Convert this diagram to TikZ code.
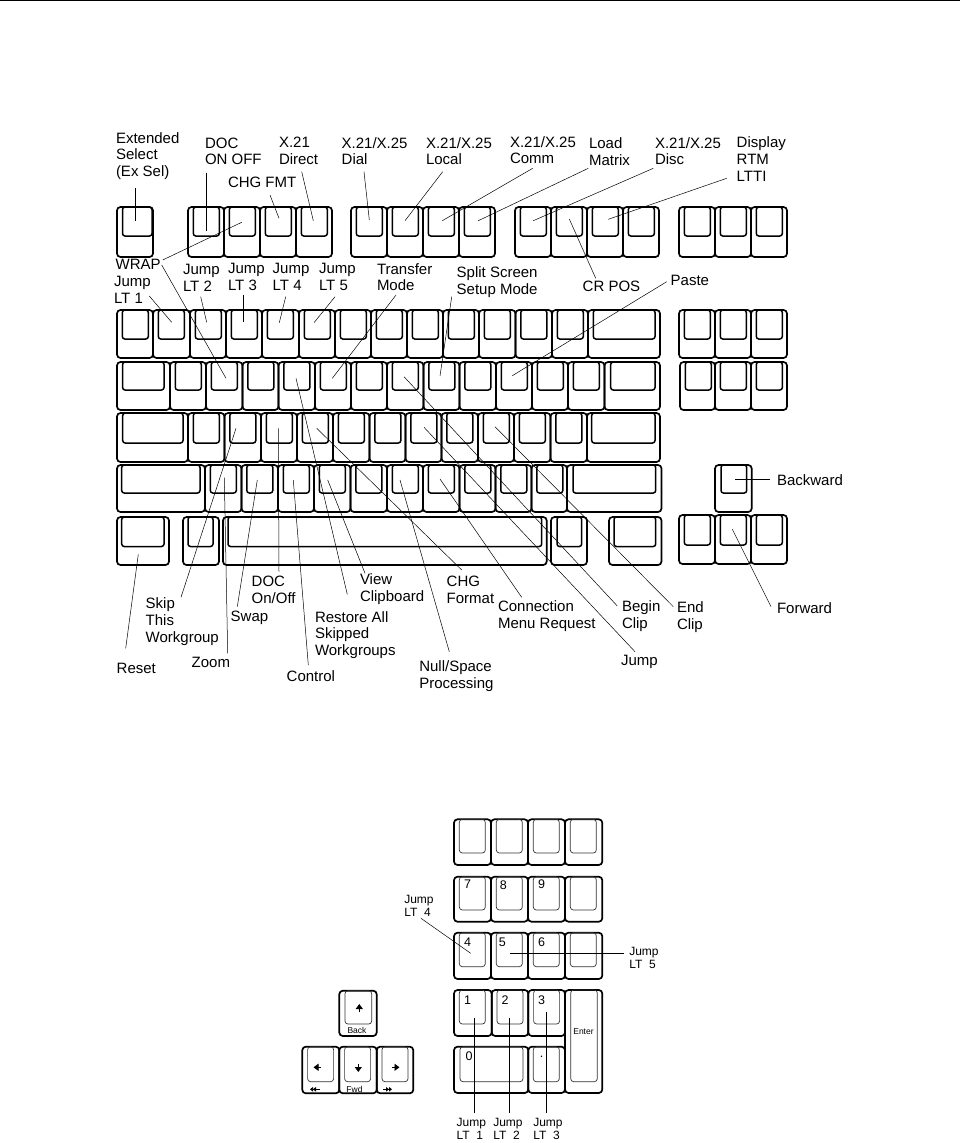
\documentclass[tikz,border=0pt]{standalone}
\usepackage{fontspec}
\setmainfont{Liberation Sans}
\usetikzlibrary{arrows.meta}
\tikzset{
  keyouter/.style={draw=black,line width=1.7pt,rounded corners=3.5pt,inner sep=0pt,outer sep=0pt,fill=none},
  keyinner/.style={draw=black,line width=1.5pt,rounded corners=2.5pt,inner sep=0pt,outer sep=0pt,fill=none},
  padinner/.style={draw=black!80,line width=0.7pt,rounded corners=3pt,inner sep=0pt,outer sep=0pt,fill=none},
  lab/.style={anchor=west,align=left,inner sep=0pt,outer sep=0pt,font=\fontsize{15}{16.6}\selectfont},
  smlab/.style={anchor=west,align=left,inner sep=0pt,outer sep=0pt,font=\fontsize{12}{13}\selectfont},
  keynum/.style={inner sep=0pt,outer sep=0pt,font=\fontsize{12.5}{13}\selectfont},
  keytiny/.style={inner sep=0pt,outer sep=0pt,font=\fontsize{8.5}{9}\selectfont},
  leader/.style={draw=black,line width=0.5pt},
  glyph/.style={draw=black,line width=0.9pt},
}
% \KK{name}{x0}{x1}{y0}{y1}{inner x0}{inner x1}{inner bottom}{inner style}
\newcommand{\KK}[9]{%
  \node[keyouter,minimum width={(#3-#2)*1pt},minimum height={(#5-#4)*1pt}] (#1) at ({(#2+#3)/2},{(#4+#5)/2}) {};
  \node[#9,minimum width={(#7-#6)*1pt},minimum height={(#8-#4)*1pt}] (#1i) at ({(#6+#7)/2},{(#4+#8)/2}) {};
}
% row of regular keys
\newcommand{\KRow}[6][keyinner]{%
  \foreach \a/\b [count=\i] in {#6} {%
    \pgfmathsetmacro{\ia}{\a+5.3}\pgfmathsetmacro{\ib}{\a+31.3}
    \KK{#2\i}{\a}{\b}{#3}{#4}{\ia}{\ib}{#5}{#1}
  }%
}
\newcommand{\Lead}[3]{%
  \coordinate (#1a) at (#2);\coordinate (#1b) at (#3);
  \draw[leader] (#1a) -- (#1b);
}
\begin{document}
\begin{tikzpicture}[x=1pt,y=-1pt]
\useasboundingbox (0,0) rectangle (960,1143);
\fill[white] (0,0) rectangle (960,1143);
\fill[black] (0,0) rectangle (960,1.2);
% --- function row
\KK{exsel}{117}{153}{207}{257}{122.5}{152}{236}{keyinner}
\KRow{fa}{207}{257}{236}{188/224,224/260,260/296,296/332}
\KRow{fb}{207}{257}{236}{351/387,387/423,423/459,459/495}
\KRow{fc}{207}{257}{236}{515/551,551/587,587/623,623/659}
\KRow{fd}{207}{257}{236}{679/715,715/751,751/787}
% --- row 1
\KRow{ra}{310}{358}{339}{117/153,153/190,190/226,226/262,262/299,299/335,335/371,371/407,407/443,443/479,479/515.5,515.5/552,552/588}
\KK{ra14}{588}{660}{310}{358}{593.3}{655}{339}{keyinner}
\KRow{na}{310}{358}{339}{679/715,715/751,751/787}
% --- row 2
\KK{rb1}{117}{170}{362}{410}{122.6}{164}{390}{keyinner}
\KRow{rc}{362}{410}{390}{170/206,206/242.5,242.5/278.5,278.5/315,315/351,351/387,387/423.5,423.5/459.5,459.5/496,496/532,532/568,568/604.5}
\KK{rb14}{604.5}{660}{362}{410}{610.7}{655}{390}{keyinner}
\KRow{nb}{362}{410}{390}{680/715,715/751,751/787}
% --- row 3
\KK{rd1}{117}{188}{413}{462}{122.7}{183}{443}{keyinner}
\KRow{re}{413}{462}{443}{188/224.5,224.5/261,261/297,297/333,333/369.5,369.5/405.5,405.5/441.5,441.5/478,478/514,514/550.5,550.5/587}
\KK{rd14}{587}{660}{413}{462}{591.7}{655}{443}{keyinner}
% --- row 4
\KK{rf1}{117}{205}{465}{512}{121.7}{200}{493}{keyinner}
\KRow{rg}{465}{512}{493}{205/241.5,241.5/278,278/314,314/350.5,350.5/387,387/423,423/459.5,459.5/495.5,495.5/531.5,531.5/567}
\KK{rf13}{567}{661.5}{465}{512}{573}{655.7}{493}{keyinner}
% --- bottom row
\KK{reset}{117}{169}{517}{565}{121.7}{164}{546.5}{keyinner}
\KK{alt}{183}{219}{517}{565}{188}{213}{546.5}{keyinner}
\KK{space}{223}{546.7}{517}{565}{228}{541.7}{546.5}{keyinner}
\KK{altr}{551}{587}{517}{565}{557}{581.7}{546.5}{keyinner}
\KK{ctrl}{609}{661.5}{517}{565}{614}{655.7}{546.5}{keyinner}
% --- cursor cluster
\KK{bwd}{715}{751.7}{465}{512}{721}{746.7}{493}{keyinner}
\KRow{cur}{515}{564}{545}{679/715,715/751,751/787}
% --- keypad
\KRow[padinner]{pa}{819.3}{865}{853}{454/491,491/528,528/565,565/602.3}
\KRow[padinner]{pb}{876.7}{921.7}{910}{454/491,491/528,528/565,565/602.3}
\KRow[padinner]{pc}{932.7}{979}{966.7}{454/491,491/528,528/565,565/602.3}
\KRow[padinner]{pd}{990}{1036}{1024}{454/491.7,491.7/528.3,528.3/565}
\KK{penter}{565}{602.3}{990}{1093}{570.7}{597.3}{1081.7}{padinner}
\KK{pzero}{454}{528.3}{1046.7}{1093}{460}{523}{1081.7}{padinner}
\KK{pdot}{528.3}{565}{1046.7}{1093}{533.3}{559.3}{1081.7}{padinner}
% --- arrow pad
\KK{aup}{339.3}{376.7}{990.7}{1036}{345}{371.7}{1024}{padinner}
\KRow[padinner]{arr}{1046.7}{1093.3}{1081.7}{302.3/339.3,339.3/376.7,376.7/413.3}
% arrow glyphs
\draw[glyph,-{Triangle[length=5pt,width=7pt]}] (359.3,1012) -- (359.3,1004);
\draw[glyph,-{Triangle[length=5pt,width=7pt]}] (321,1067.3) -- (313.5,1067.3);
\draw[glyph,-{Triangle[length=5pt,width=7pt]}] (358.3,1064) -- (358.3,1072);
\draw[glyph,-{Triangle[length=5pt,width=7pt]}] (391.5,1067.3) -- (399.5,1067.3);
\draw[glyph,-{Triangle[length=3pt,width=4.5pt]Triangle[length=3pt,width=4.5pt]}] (320,1089.3) -- (310,1089.3);
\draw[glyph,-{Triangle[length=3pt,width=4.5pt]Triangle[length=3pt,width=4.5pt]}] (383,1089.3) -- (392,1089.3);
% keypad legends
\node[keynum] (t7) at (467.5,884) {7};
\node[keynum] (t8) at (503.3,885.3) {8};
\node[keynum] (t9) at (541.7,884) {9};
\node[keynum] (t4) at (467.7,942.3) {4};
\node[keynum] (t5) at (502.3,942.3) {5};
\node[keynum] (t6) at (541.7,942.3) {6};
\node[keynum] (t1) at (467.7,1000) {1};
\node[keynum] (t2) at (505,1000) {2};
\node[keynum] (t3) at (541.7,1000) {3};
\node[keynum] (t0) at (469,1056) {0};
\node[keynum] (tdot) at (541.7,1057) {.};
\node[keytiny] (tenter) at (583.5,1031.3) {Enter};
\node[keytiny] (tback) at (357,1030) {Back};
\node[keytiny] (tfwd) at (354.5,1089.3) {Fwd};
% --- labels, top
\node[lab] (lext) at (116,156) {Extended\\Select\\(Ex Sel)};
\node[lab] (ldoc) at (205,151.5) {DOC\\ON OFF};
\node[lab] (ldir) at (279,151) {X.21\\Direct};
\node[lab] (lchg) at (228,182) {CHG FMT};
\node[lab] (ldial) at (341.7,151) {X.21/X.25\\Dial};
\node[lab] (lloc) at (426,151) {X.21/X.25\\Local};
\node[lab] (lcomm) at (510,150) {X.21/X.25\\Comm};
\node[lab] (lload) at (589,151.7) {Load\\Matrix};
\node[lab] (ldisc) at (655,151) {X.21/X.25\\Disc};
\node[lab] (ldisp) at (736.7,159) {Display\\RTM\\LTTI};
\node[lab] (lwrap) at (115.7,264) {WRAP};
\node[lab] (lj1) at (114,290) {Jump\\LT 1};
\node[lab] (lj2) at (183,278) {Jump\\LT 2};
\node[lab] (lj3) at (228,277) {Jump\\LT 3};
\node[lab] (lj4) at (272.7,277) {Jump\\LT 4};
\node[lab] (lj5) at (319,277) {Jump\\LT 5};
\node[lab] (ltran) at (377,277) {Transfer\\Mode};
\node[lab] (lsplit) at (456.7,282) {Split Screen\\Setup Mode};
\node[lab] (lcr) at (582.7,286.7) {CR POS};
\node[lab] (lpaste) at (670.7,280) {Paste};
% --- labels, lower
\node[lab] (lreset) at (116.7,668) {Reset};
\node[lab] (lskip) at (145.7,621.7) {Skip\\This\\Workgroup};
\node[lab] (lzoom) at (191.7,662) {Zoom};
\node[lab] (lswap) at (230.7,618) {Swap};
\node[lab] (ldoc2) at (251.7,590) {DOC\\On/Off};
\node[lab] (lrest) at (315,635) {Restore All\\Skipped\\Workgroups};
\node[lab] (lview) at (360,589) {View\\Clipboard};
\node[lab] (lchgf) at (446.7,589.7) {CHG\\Format};
\node[lab] (lctrl) at (286.7,676) {Control};
\node[lab] (lnull) at (419.3,676) {Null/Space\\Processing};
\node[lab] (lconn) at (498,616) {Connection\\Menu Request};
\node[lab] (lbegin) at (622,616) {Begin\\Clip};
\node[lab] (lend) at (677,617) {End\\Clip};
\node[lab] (ljump) at (621,662) {Jump};
\node[lab] (lbwd) at (777,480) {Backward};
\node[lab] (lfwd) at (777,608) {Forward};
% --- labels, keypad
\node[smlab] (pj4) at (404.3,905.5) {Jump\\LT\ \ 4};
\node[smlab] (pj5) at (629.3,958) {Jump\\LT\ \ 5};
\node[smlab] (pj1) at (456.7,1129.3) {Jump\\LT\ \ 1};
\node[smlab] (pj2) at (493.3,1129.3) {Jump\\LT\ \ 2};
\node[smlab] (pj3) at (533.3,1129.3) {Jump\\LT\ \ 3};
% --- leaders, top
\Lead{c1}{135,188.3}{135,220.7}
\Lead{c2}{206.7,172.7}{206.7,230.7}
\Lead{c3}{270,195}{279,218.3}
\Lead{c4}{301.7,171.7}{313.3,220.7}
\Lead{c5}{364,171.7}{369.3,220}
\Lead{c6}{442.7,171.7}{405,220.7}
\Lead{c7}{532.7,168.3}{442.3,220.7}
\Lead{c8}{588.3,168.3}{478.3,220.7}
\Lead{c9}{653.3,168.3}{533.3,220.7}
\Lead{c10}{726.7,178.3}{608.3,219.3}
\Lead{c11}{595.7,278.3}{569.3,219}
\Lead{c12}{162.7,260}{241.7,222.3}
\Lead{c13}{161.7,265}{226,378.3}
\Lead{c14}{149.3,296}{171.7,322.3}
\Lead{c15}{200.7,296.7}{206.7,322.3}
\Lead{c16}{243.3,295}{243.3,321.7}
\Lead{c17}{285.7,296.7}{279.3,322.7}
\Lead{c18}{335,296.7}{314,322.7}
\Lead{c19}{396,295}{332.3,378.3}
\Lead{c20}{451.7,296.7}{440,376}
\Lead{c21}{666.7,281.7}{512.3,375.7}
% --- leaders, lower
\Lead{d1}{138.3,554.3}{125.7,648.3}
\Lead{d2}{236,428.3}{181,597.3}
\Lead{d3}{224.3,477.7}{227.7,653.3}
\Lead{d4}{257.3,480}{237.3,606.7}
\Lead{d5}{278.3,428.3}{279,571.7}
\Lead{d6}{293.3,480}{308.3,665}
\Lead{d7}{296,378.3}{347.3,594.3}
\Lead{d8}{327.7,480}{365,573.3}
\Lead{d9}{316.7,428.3}{461.7,570}
\Lead{d10}{400,480}{449.3,651.7}
\Lead{d11}{440,479}{521.7,597.3}
\Lead{d12}{424,427.3}{635,651.7}
\Lead{d13}{404,376.7}{617.3,606}
\Lead{d14}{495,426.7}{673.3,606.7}
\Lead{d15}{735,479.3}{770,479.3}
\Lead{d16}{732.3,529.3}{771,606.7}
% --- leaders, keypad
\Lead{e1}{421,918.3}{470.7,953.3}
\Lead{e2}{624,953.3}{510,953.3}
\Lead{e3}{474,1018.3}{474,1113.3}
\Lead{e4}{509.3,1018.3}{509.3,1113.3}
\Lead{e5}{546,1011.7}{546,1113.3}
\end{tikzpicture}
\end{document}
